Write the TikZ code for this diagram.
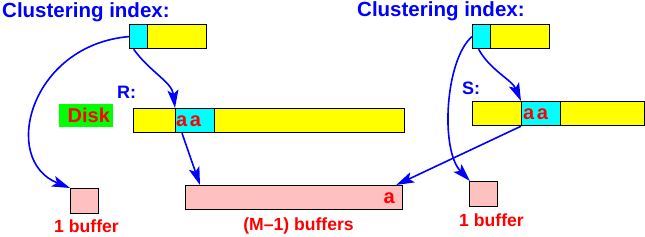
\documentclass[tikz,border=0pt]{standalone}
\usepackage{fontspec}
\setmainfont{Liberation Sans}
\usetikzlibrary{arrows.meta}
\definecolor{yel}{HTML}{FFFF00}
\definecolor{cya}{HTML}{00FFFF}
\definecolor{pnk}{HTML}{FFC0C0}
\definecolor{grn}{HTML}{00FF00}
\definecolor{blu}{HTML}{0000FF}
\definecolor{rd}{HTML}{FF0000}
\begin{document}
\begin{tikzpicture}[x=1pt,y=-1pt,
  cell/.style={draw=black,line width=1.2pt,inner sep=0pt,anchor=north west},
  ycell/.style={cell,fill=yel},
  ccell/.style={cell,fill=cya},
  pcell/.style={cell,fill=pnk},
  title/.style={text=blu,font=\bfseries\fontsize{20.5}{20.5}\selectfont,inner sep=0pt,anchor=base west},
  lbl/.style={text=rd,font=\bfseries\fontsize{17.6}{17.6}\selectfont,inner sep=0pt},
  big/.style={text=rd,font=\bfseries\fontsize{20}{20}\selectfont,inner sep=0pt},
  rel/.style={text=blu,font=\bfseries\fontsize{18}{18}\selectfont,inner sep=0pt,anchor=base west},
  arr/.style={blu,line width=1.6pt,-{Stealth[length=18pt,width=11pt,inset=4pt]}}]
\useasboundingbox (0,0) rectangle (645,236);
% left index
\node[title] (t1) at (2,17.3) {Clustering index:};
\node[ccell,minimum width=18pt,minimum height=24pt] (ic1) at (129,24) {};
\node[ycell,minimum width=59pt,minimum height=24pt] (iy1) at (147,24) {};
% R
\node[rel] (r) at (117,98) {R:};
\node[fill=grn,inner sep=0pt,minimum width=54pt,minimum height=23pt,anchor=north west] (disk) at (59,104) {};
\node[big,anchor=base west] (disktxt) at (67.5,122) {Disk};
\node[ycell,minimum width=42pt,minimum height=24pt] (ry1) at (133,108) {};
\node[ccell,minimum width=39pt,minimum height=24pt] (rc) at (175,108) {};
\node[big,anchor=base west] (raa) at (176,126) {a\kern2.5pt a};
\node[ycell,minimum width=190pt,minimum height=24pt] (ry2) at (214,108) {};
% M-1 buffers
\node[pcell,minimum width=217pt,minimum height=24pt] (mb) at (185,185) {};
\node[big,anchor=base east] (ma) at (395,203) {a};
\node[lbl] (mbl) at (298.5,225.5) {(M\textendash1) buffers};
% left 1 buffer
\node[pcell,minimum width=28pt,minimum height=25pt] (b1) at (70,188) {};
\node[lbl] (b1l) at (86.5,226.5) {1 buffer};
% right index
\node[title] (t2) at (357,16.5) {Clustering index:};
\node[ccell,minimum width=18pt,minimum height=24pt] (ic2) at (472,24) {};
\node[ycell,minimum width=59pt,minimum height=24pt] (iy2) at (490,24) {};
% S
\node[rel] (s) at (462,94) {S:};
\node[ycell,minimum width=49pt,minimum height=24pt] (sy1) at (472,101) {};
\node[ccell,minimum width=39pt,minimum height=24pt] (sc) at (521,101) {};
\node[big,anchor=base west] (saa) at (523,119) {a\kern2.5pt a};
\node[ycell,minimum width=84pt,minimum height=24pt] (sy2) at (560,101) {};
% right 1 buffer
\node[pcell,minimum width=28pt,minimum height=25pt] (b2) at (469,181) {};
\node[lbl] (b2l) at (491.5,220.5) {1 buffer};
% arrows
\draw[arr] (ic1.west) .. controls (30,45) and (0,160) .. (b1.north west);
\draw[arr] ([xshift=-5pt]ic1.south) .. controls (150,72) and (172,82) .. (rc.north west);
\draw[arr] ([xshift=7pt]rc.south west) -- ([xshift=15pt]mb.north west);
\draw[arr] (ic2.west) .. controls (445,60) and (440,150) .. ([xshift=1pt]b2.north west);
\draw[arr] ([xshift=-3pt]ic2.south) .. controls (490,70) and (512,80) .. (sc.north west);
\draw[arr] (sc.south west) -- ([xshift=-7pt]mb.north east);
\end{tikzpicture}
\end{document}
